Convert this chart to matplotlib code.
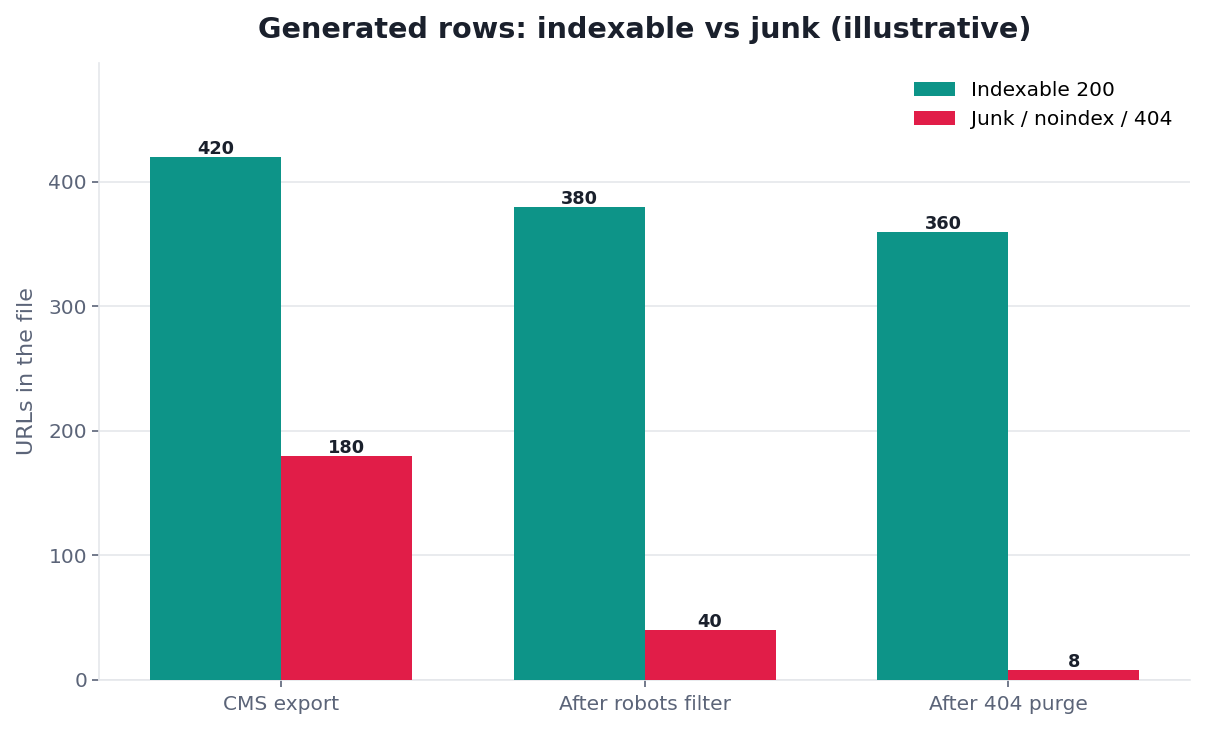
import matplotlib
matplotlib.use("Agg")
import matplotlib.pyplot as plt
import numpy as np

categories = ["CMS export", "After robots filter", "After 404 purge"]
indexable = [420, 380, 360]
junk = [180, 40, 8]
series_labels = ["Indexable 200", "Junk / noindex / 404"]

TEAL = "#0d9488"
RED = "#e11d48"
TEXT = "#1a202c"
GRAY = "#5b6478"
LIGHT = "#e5e7eb"

fig, ax = plt.subplots(figsize=(12.06, 7.31), dpi=100)
fig.subplots_adjust(left=0.082, right=0.987, top=0.914, bottom=0.07)

x = np.arange(len(categories))
w = 0.36
b1 = ax.bar(x - w / 2, indexable, w, color=TEAL, label=series_labels[0], zorder=3)
b2 = ax.bar(x + w / 2, junk, w, color=RED, label=series_labels[1], zorder=3)

for bars in (b1, b2):
    for r in bars:
        ax.annotate(f"{int(r.get_height())}", (r.get_x() + r.get_width() / 2, r.get_height()),
                    xytext=(0, -1), textcoords="offset points", ha="center", va="bottom",
                    fontsize=12.8, fontweight="bold", color=TEXT, zorder=4)

ax.set_xticks(x)
ax.set_xticklabels(categories)
ax.set_xlim(-0.5, 2.5)
ax.set_ylim(0, max(indexable) * 1.18)
ax.set_yticks([0, 100, 200, 300, 400])
ax.yaxis.grid(True, color=LIGHT, linewidth=1.2, zorder=0)
ax.set_axisbelow(True)
for s in ("top", "right"):
    ax.spines[s].set_visible(False)
for s in ("left", "bottom"):
    ax.spines[s].set_color(LIGHT)
    ax.spines[s].set_linewidth(1.2)
ax.tick_params(axis="both", colors=GRAY, labelsize=14.5, length=5, width=1.2)
ax.tick_params(axis="x", pad=6)
ax.set_ylabel("URLs in the file", fontsize=16, color=GRAY, labelpad=8)
ax.set_title("Generated rows: indexable vs junk (illustrative)", fontsize=20.6,
             fontweight="bold", color=TEXT, pad=18)
ax.legend(frameon=False, fontsize=14.5, loc="upper right")

fig.savefig("out.png", dpi=100)
